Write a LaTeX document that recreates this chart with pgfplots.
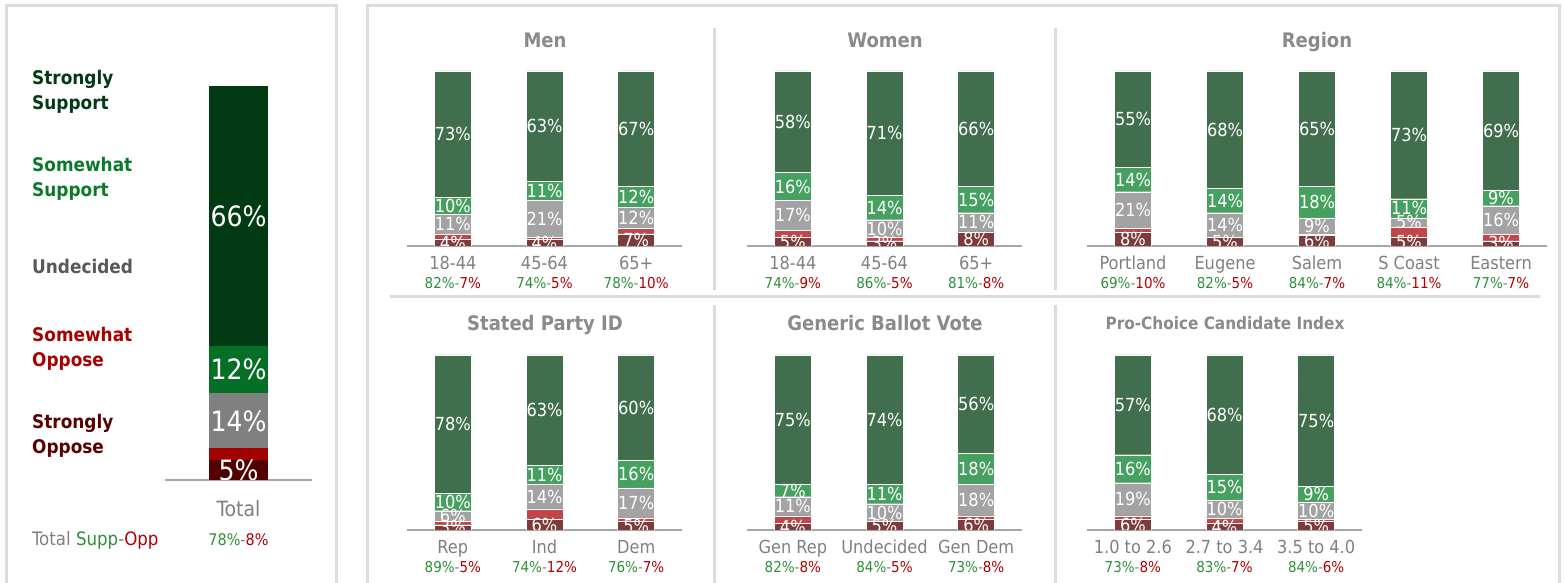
\documentclass[border=0pt]{standalone}
\usepackage{fontspec}
\setmainfont{DejaVu Sans Condensed}
\usepackage{pgfplots}
\usepackage{pgfplotstable}
\pgfplotsset{compat=1.18}
\pgfkeys{/pgf/number format/assume math mode=true}
\definecolor{pSS}{HTML}{416E4D}
\definecolor{pSwS}{HTML}{46A160}
\definecolor{pU}{HTML}{A3A3A3}
\definecolor{pSwO}{HTML}{C2454A}
\definecolor{pSO}{HTML}{7C3C3C}
\definecolor{lSS}{HTML}{013A13}
\definecolor{lSwS}{HTML}{057025}
\definecolor{lU}{HTML}{808080}
\definecolor{lSwO}{HTML}{A30000}
\definecolor{lSO}{HTML}{520000}
\definecolor{tSS}{HTML}{013A13}
\definecolor{tSwS}{HTML}{0A7A2A}
\definecolor{tU}{HTML}{595959}
\definecolor{tSwO}{HTML}{A80000}
\definecolor{tSO}{HTML}{5A0000}
\definecolor{sgreen}{HTML}{2F8F3C}
\definecolor{sred}{HTML}{B00000}
\definecolor{titlegray}{HTML}{8A8A8A}
\definecolor{tickgray}{HTML}{808080}
\definecolor{boxgray}{HTML}{DCDCDC}
\definecolor{axisgray}{HTML}{A6A6A6}

\newcommand{\so}[2]{{\fontsize{15}{16}\selectfont\textcolor{sgreen}{#1\%}\textcolor{tickgray}{-}\textcolor{sred}{#2\%}}}

% so = strongly oppose, swo = somewhat oppose, und = undecided,
% sws = somewhat support, ss = strongly support (label), sh = drawn height of ss (rounding)
\pgfplotstableread{
x so swo und sws ss sh
0 4 3 11 10 73 72
1 4 1 21 11 63 63
2 7 3 12 12 67 66
}\men
\pgfplotstableread{
x so swo und sws ss sh
0 5 4 17 16 58 58
1 3 2 10 14 71 71
2 8 0 11 15 66 66
}\women
\pgfplotstableread{
x so swo und sws ss sh
0 8 2 21 14 55 55
1 5 0 14 14 68 67
2 6 1 9 18 65 66
3 5 6 5 11 73 73
4 3 4 16 9 69 68
}\region
\pgfplotstableread{
x so swo und sws ss sh
0 3 2 6 10 78 79
1 6 6 14 11 63 63
2 5 2 17 16 60 60
}\party
\pgfplotstableread{
x so swo und sws ss sh
0 4 4 11 7 75 74
1 5 0 10 11 74 74
2 6 2 18 18 56 56
}\generic
\pgfplotstableread{
x so swo und sws ss sh
0 6 2 19 16 57 57
1 4 3 10 15 68 68
2 5 1 10 9 75 75
}\prochoice
\pgfplotstableread{
x so swo und sws ss sh
0 5 3 14 12 66 66
}\total

\pgfplotsset{
  base/.style 2 args={
    scale only axis, width=#1, height=175pt,
    ymin=0, ymax=100, xmin=-0.5, xmax=#2,
    anchor=south west, clip=true,
  },
  panel/.style 2 args={
    base={#1}{#2},
    ybar stacked, bar width=37pt,
    hide y axis, axis x line*=bottom,
    x axis line style={-, draw=axisgray, line width=1.5pt},
    xtick=data, xtick style={draw=none}, major tick length=0pt,
    xticklabel style={font=\fontsize{18}{19}\selectfont, text=tickgray, align=center, anchor=north, inner sep=0pt, yshift=-10pt},
  },
  lbl/.style={
    draw=none, mark=none, point meta=explicit,
    nodes near coords={\pgfmathprintnumber{\pgfplotspointmeta}\%},
    every node near coord/.style={anchor=center, text=white, inner sep=0pt, font=\fontsize{18}{19}\selectfont},
  },
  seg/.style={fill=#1, draw=white, line width=0.4pt},
}
\newcommand{\panel}[5]{%
\begin{axis}[panel={#1}{#2}, at={#3}, xticklabels={#5}]
  \addplot[seg=pSO] table[x=x,y=so] {#4};
  \addplot[seg=pSwO] table[x=x,y=swo] {#4};
  \addplot[seg=pU] table[x=x,y=und] {#4};
  \addplot[seg=pSwS] table[x=x,y=sws] {#4};
  \addplot[seg=pSS] table[x=x,y=sh] {#4};
\end{axis}
\begin{scope}
\clip #3 rectangle ++(#1,180pt);
\begin{axis}[base={#1}{#2}, at={#3}, hide axis]
  \addplot[lbl] table[x=x, y expr=\thisrow{so}/2, meta=so] {#4};
  \addplot[lbl] table[x=x, y expr=\thisrow{so}+\thisrow{swo}+\thisrow{und}/2, meta=und] {#4};
  \addplot[lbl] table[x=x, y expr=\thisrow{so}+\thisrow{swo}+\thisrow{und}+\thisrow{sws}/2, meta=sws] {#4};
  \addplot[lbl] table[x=x, y expr=\thisrow{so}+\thisrow{swo}+\thisrow{und}+\thisrow{sws}+\thisrow{sh}/2, meta=ss] {#4};
\end{axis}
\end{scope}}

\begin{document}
\begin{tikzpicture}[x=1pt,y=1pt]
\useasboundingbox (0,0) rectangle (1564,583);
% frames
\draw[boxgray, line width=3pt] (6,-10) rectangle (336,577);
\draw[boxgray, line width=3pt] (367,-10) rectangle (1559,577);
\draw[boxgray, line width=3pt] (714,555) -- (714,293);
\draw[boxgray, line width=3pt] (1055,555) -- (1055,293);
\draw[boxgray, line width=3pt] (714,278) -- (714,0);
\draw[boxgray, line width=3pt] (1055,278) -- (1055,0);
\draw[boxgray, line width=3pt] (390,286) -- (1540,286);

% panel titles
\begin{scope}[every node/.style={anchor=base, inner sep=0pt, text=titlegray, font=\bfseries\fontsize{20}{22}\selectfont}]
\node at (545,535.7) {Men};
\node at (885,535.7) {Women};
\node at (1317,535.7) {Region};
\node at (545,252.7) {Stated Party ID};
\node at (885,252.7) {Generic Ballot Vote};
\node[font=\bfseries\fontsize{17}{19}\selectfont] at (1225,253.8) {Pro-Choice Candidate Index};
\end{scope}

% left legend labels
\begin{scope}[every node/.style={anchor=west, align=left, inner sep=0pt, font=\bfseries\fontsize{18.8}{25}\selectfont}]
\node[text=tSS] at (32,491.5) {Strongly\\Support};
\node[text=tSwS] at (32,404.5) {Somewhat\\Support};
\node[text=tU] at (32,317) {Undecided};
\node[text=tSwO] at (32,234) {Somewhat\\Oppose};
\node[text=tSO] at (32,147.5) {Strongly\\Oppose};
\end{scope}
\node[anchor=west, inner sep=0pt, font=\fontsize{18.5}{19}\selectfont] at (32,43) {\textcolor{tickgray}{Total} \textcolor{sgreen}{Supp}\textcolor{tickgray}{-}\textcolor{sred}{Opp}};
\node[inner sep=0pt, font=\fontsize{16}{17}\selectfont] at (238.5,43) {\textcolor{sgreen}{78\%}\textcolor{tickgray}{-}\textcolor{sred}{8\%}};

% left total bar
\begin{axis}[at={(165pt,103pt)}, anchor=south west,
  ybar stacked, bar width=59pt, scale only axis, width=147pt, height=394pt,
  ymin=0, ymax=100, xmin=-0.5, xmax=0.5,
  hide y axis, axis x line*=bottom,
  x axis line style={-, draw=axisgray, line width=1.5pt},
  xtick={0}, xticklabels={Total}, xtick style={draw=none}, major tick length=0pt,
  xticklabel style={font=\fontsize{21}{22}\selectfont, text=tickgray, anchor=north, inner sep=0pt, yshift=-20pt},
  clip=true,
]
  \addplot[fill=lSO, draw=none] table[x=x,y=so] {\total};
  \addplot[fill=lSwO, draw=none] table[x=x,y=swo] {\total};
  \addplot[fill=lU, draw=none] table[x=x,y=und] {\total};
  \addplot[fill=lSwS, draw=none] table[x=x,y=sws] {\total};
  \addplot[fill=lSS, draw=none] table[x=x,y=sh] {\total};
\end{axis}
\begin{scope}
\clip (165pt,103pt) rectangle ++(147pt,400pt);
\begin{axis}[at={(165pt,103pt)}, anchor=south west, scale only axis, width=147pt, height=394pt,
  ymin=0, ymax=100, xmin=-0.5, xmax=0.5, hide axis, clip=true,
  lbl/.append style={every node near coord/.append style={font=\fontsize{28}{30}\selectfont}}]
  \addplot[lbl] table[x=x, y expr=\thisrow{so}/2, meta=so] {\total};
  \addplot[lbl] table[x=x, y expr=\thisrow{so}+\thisrow{swo}+\thisrow{und}/2, meta=und] {\total};
  \addplot[lbl] table[x=x, y expr=\thisrow{so}+\thisrow{swo}+\thisrow{und}+\thisrow{sws}/2, meta=sws] {\total};
  \addplot[lbl] table[x=x, y expr=\thisrow{so}+\thisrow{swo}+\thisrow{und}+\thisrow{sws}+\thisrow{sh}/2, meta=ss] {\total};
\end{axis}
\end{scope}

% top row
\panel{275pt}{2.5}{(407pt,337pt)}{\men}{{18-44\\\so{82}{7}},{45-64\\\so{74}{5}},{65+\\\so{78}{10}}}
\panel{275pt}{2.5}{(747pt,337pt)}{\women}{{18-44\\\so{74}{9}},{45-64\\\so{86}{5}},{65+\\\so{81}{8}}}
\panel{460pt}{4.5}{(1087pt,337pt)}{\region}{{Portland\\\so{69}{10}},{Eugene\\\so{82}{5}},{Salem\\\so{84}{7}},{S Coast\\\so{84}{11}},{Eastern\\\so{77}{7}}}
% bottom row
\panel{275pt}{2.5}{(407pt,53pt)}{\party}{{Rep\\\so{89}{5}},{Ind\\\so{74}{12}},{Dem\\\so{76}{7}}}
\panel{275pt}{2.5}{(747pt,53pt)}{\generic}{{Gen Rep\\\so{82}{8}},{Undecided\\\so{84}{5}},{Gen Dem\\\so{73}{8}}}
\panel{275pt}{2.5}{(1087pt,53pt)}{\prochoice}{{1.0 to 2.6\\\so{73}{8}},{2.7 to 3.4\\\so{83}{7}},{3.5 to 4.0\\\so{84}{6}}}
\end{tikzpicture}
\end{document}
